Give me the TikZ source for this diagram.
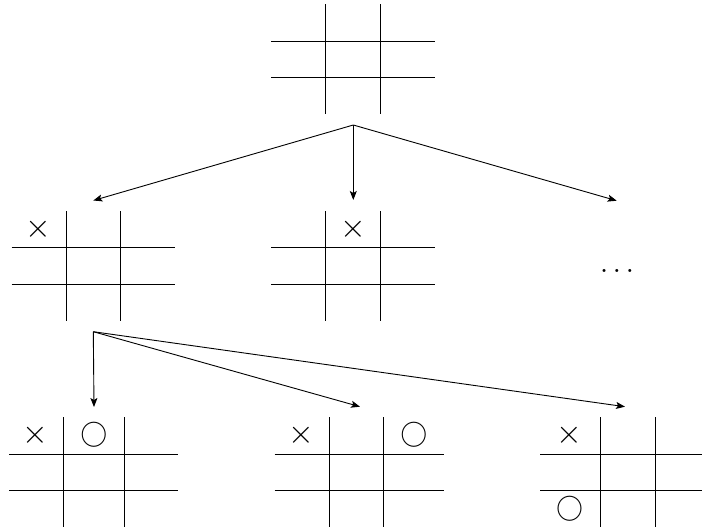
\documentclass[tikz,border=0pt]{standalone}
\usetikzlibrary{arrows.meta}
\tikzset{
  grid/.style={line width=1pt, black},
  arr/.style={line width=0.9pt, -{Stealth[length=9pt,width=7pt,inset=2pt]}},
  xmark/.style={inner sep=0pt, scale=3.3},
  omark/.style={inner sep=0pt, scale=2.7},
}
% board: #1 = left x, #2 = top y, #3,#4,#5 = column widths
\newcommand{\tttboard}[5]{%
  \pgfmathsetmacro{\bxa}{#1+#3}%
  \pgfmathsetmacro{\bxb}{#1+#3+#4}%
  \pgfmathsetmacro{\bxc}{#1+#3+#4+#5}%
  \pgfmathsetmacro{\bya}{#2+36.7}%
  \pgfmathsetmacro{\byb}{#2+73.4}%
  \pgfmathsetmacro{\byc}{#2+110.1}%
  \draw[grid] (#1,\bya) -- (\bxc,\bya);
  \draw[grid] (#1,\byb) -- (\bxc,\byb);
  \draw[grid] (\bxa,#2) -- (\bxa,\byc);
  \draw[grid] (\bxb,#2) -- (\bxb,\byc);
}
\begin{document}
\begin{tikzpicture}[x=1pt,y=-1pt]
\useasboundingbox (0,0) rectangle (702,530);
\begin{scope}
\clip (0,0) rectangle (702,530);
% boards
\tttboard{271.3}{4.3}{54.5}{54.5}{54.5}
\tttboard{11.5}{211}{54.5}{54.5}{54.5}
\tttboard{271.3}{211}{54.5}{54.5}{54.5}
\tttboard{9}{417.3}{54.3}{61}{54}
\tttboard{274.7}{417.3}{54.3}{54.7}{60.3}
\tttboard{540}{417.3}{60.7}{54.6}{54.5}
\end{scope}
% marks
\node[xmark] (x2) at (38.8,229.5) {$\times$};
\node[xmark] (x3) at (353,229.5) {$\times$};
\node[xmark] (x4) at (35.8,435.2) {$\times$};
\node[omark] (o4) at (93.8,435) {$\bigcirc$};
\node[xmark] (x5) at (301.8,435.2) {$\times$};
\node[omark] (o5) at (413.8,435) {$\bigcirc$};
\node[xmark] (x6) at (569.5,435.2) {$\times$};
\node[omark] (o6) at (569.5,509) {$\bigcirc$};
\node[inner sep=0pt, scale=2.9] (dots) at (617,271) {$\ldots$};
% arrows
\coordinate (s1) at (353.3,125);
\coordinate (t1a) at (93.3,200.5);
\coordinate (t1b) at (353.3,200);
\coordinate (t1c) at (616.7,200.7);
\coordinate (s2) at (93.3,331.7);
\coordinate (t2a) at (94,407);
\coordinate (t2b) at (360,406.7);
\coordinate (t2c) at (625,406.7);
\draw[arr] (s1) -- (t1a);
\draw[arr] (s1) -- (t1b);
\draw[arr] (s1) -- (t1c);
\draw[arr] (s2) -- (t2a);
\draw[arr] (s2) -- (t2b);
\draw[arr] (s2) -- (t2c);
\end{tikzpicture}
\end{document}
